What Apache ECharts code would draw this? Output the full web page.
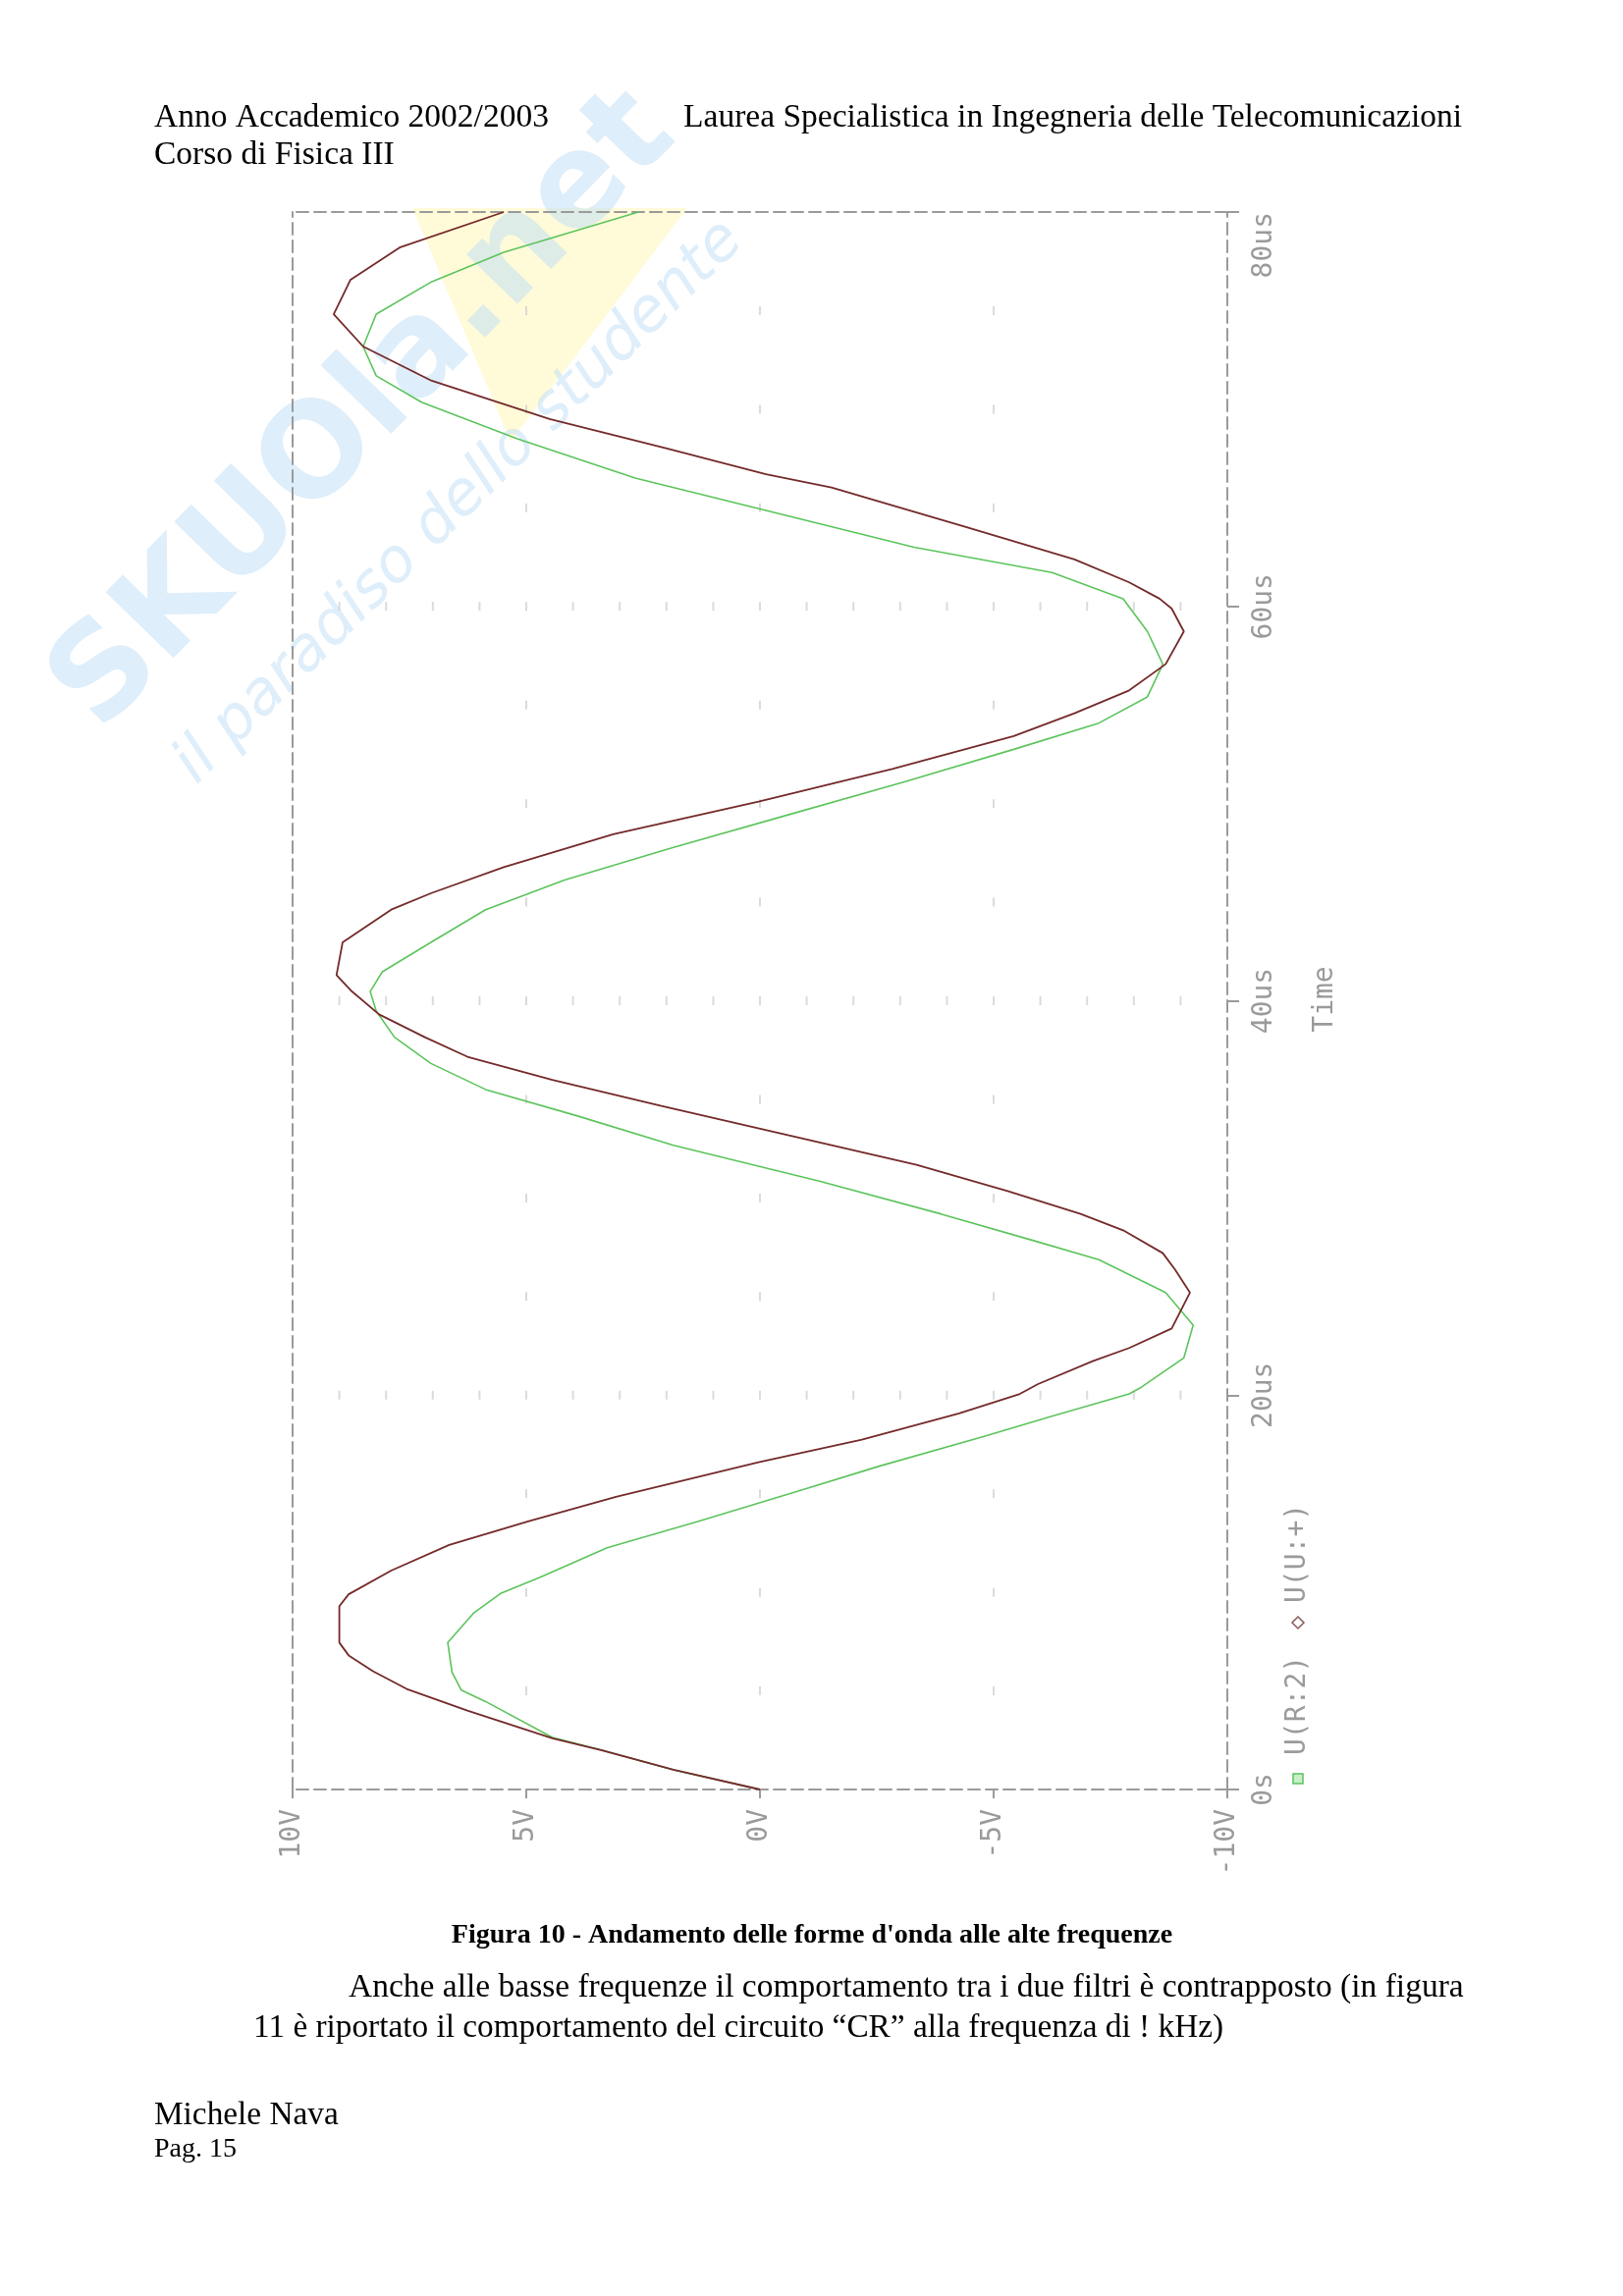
<!DOCTYPE html>
<html><head><meta charset="utf-8">
<script src="https://cdn.jsdelivr.net/npm/echarts@6/dist/echarts.min.js"></script>
<style>html,body{margin:0;padding:0;background:#fff}#c{width:1653px;height:2339px}</style>
</head><body><div id="c"></div>
<script>
// ---- data (time in us, voltage in V) ----
const darkName = 'U(U:+)';
const darkTime = [0, 1.0, 2.0, 2.6, 4.0, 5.1, 6.0, 6.8, 7.45, 9.3, 9.9, 11.1, 12.4, 13.6, 14.84, 16.6, 17.74, 19.07, 20.06, 20.56, 21.72, 22.39, 23.38, 25.2, 26.37, 27.2, 28.36, 29.19, 30.35, 31.68, 33.17, 34.67, 35.99, 37.16, 38.15, 39.31, 40.47, 41.3, 42.96, 44.62, 45.45, 46.78, 48.44, 50.1, 51.76, 53.42, 54.58, 55.74, 57.07, 58.73, 59.89, 60.39, 61.22, 62.38, 64.04, 66.03, 66.7, 68.0, 69.5, 71.44, 73.18, 74.82, 76.57, 78.2, 80.0];
const darkVolt = [0, 1.85, 3.4, 4.44, 6.26, 7.56, 8.28, 8.8, 9.0, 9.0, 8.8, 7.89, 6.65, 4.96, 3.08, 0.03, -2.18, -4.26, -5.56, -5.95, -7.12, -7.9, -8.81, -9.2, -8.88, -8.62, -7.77, -6.86, -5.30, -3.35, -0.62, 2.11, 4.44, 6.26, 7.17, 8.15, 8.73, 9.06, 8.93, 7.89, 7.04, 5.48, 3.14, 0.03, -2.83, -5.43, -6.73, -7.9, -8.68, -9.07, -8.81, -8.55, -7.9, -6.73, -4.39, -1.53, -0.13, 1.97, 4.5, 7.02, 8.49, 9.12, 8.76, 7.71, 5.48];

const greenName = 'U(R:2)';
const greenTime = [0, 1.0, 2.0, 2.64, 4.46, 5.04, 5.96, 7.45, 8.94, 9.94, 10.77, 12.26, 13.59, 15.08, 16.41, 17.9, 18.9, 20.06, 20.4, 21.89, 23.55, 25.2, 26.87, 27.86, 29.19, 30.85, 32.67, 34.17, 35.5, 36.82, 38.15, 39.48, 40.47, 41.47, 42.96, 44.62, 46.12, 47.78, 49.44, 51.1, 52.75, 54.08, 55.41, 57.07, 58.73, 60.39, 61.72, 63.0, 64.87, 66.51, 68.5, 70.34, 71.69, 73.18, 74.82, 76.47, 77.96, 80.0];
const greenVolt = [0, 1.85, 3.4, 4.44, 5.87, 6.39, 6.59, 6.68, 6.13, 5.55, 4.70, 3.27, 1.33, -0.75, -2.57, -4.78, -6.21, -7.9, -8.16, -9.07, -9.27, -8.68, -7.25, -5.82, -3.87, -1.27, 1.85, 3.92, 5.87, 7.04, 7.82, 8.21, 8.34, 8.08, 7.04, 5.87, 4.18, 1.85, -0.62, -3.09, -5.43, -7.25, -8.29, -8.62, -8.29, -7.77, -6.25, -3.3, -0.13, 2.67, 5.19, 7.23, 8.21, 8.49, 8.21, 7.02, 5.48, 2.6];

// ---- tick labels ----
const voltTickValues = [-10, -5, 0, 5, 10];
const voltTickLabels = ['-10V', '-5V', '0V', '5V', '10V'];
const timeTickValues = [0, 20, 40, 60, 80];
const timeTickLabels = ['0s', '20us', '40us', '60us', '80us'];

// ---- dotted grid mark positions ----
const gridRowTimes = [20, 40, 60];
const gridRowVolts = [-9, -8, -7, -6, -5, -4, -3, -2, -1, 0, 1, 2, 3, 4, 5, 6, 7, 8, 9];
const gridColVolts = [-5, 0, 5];
const gridColTimes = [5, 10, 15, 25, 30, 35, 45, 50, 55, 65, 70, 75];

// ---- page texts ----
const headerLeft1 = 'Anno Accademico 2002/2003';
const headerLeft2 = 'Corso di Fisica III';
const headerRight = 'Laurea Specialistica in Ingegneria delle Telecomunicazioni';
const captionText = "Figura 10 - Andamento delle forme d'onda alle alte frequenze";
const bodyLine1 = 'Anche alle basse frequenze il comportamento tra i due filtri è contrapposto (in figura';
const bodyLine2 = '11 è riportato il comportamento del circuito “CR” alla frequenza di ! kHz)';
const footer1 = 'Michele Nava';
const footer2 = 'Pag. 15';

const pair = (ts, vs) => ts.map((t, i) => [vs[i], t]);
const gridMarks = [];
gridRowTimes.forEach(t => gridRowVolts.forEach(v => gridMarks.push([v, t])));
gridColVolts.forEach(v => gridColTimes.forEach(t => gridMarks.push([v, t])));

const AX = '#9a9a9a';
const dashed = {color: AX, width: 2, type: [12, 6]};
const mono = 'DejaVu Sans Mono';
const serif = '"Liberation Serif", "Times New Roman", serif';
const F = '33.5px ' + serif;
const FB = '33.3px ' + serif;

const chart = echarts.init(document.getElementById('c'), null, {renderer: 'canvas'});
chart.setOption({
  backgroundColor: '#ffffff',
  animation: false,
  grid: {left: 298, top: 216, width: 952, height: 1607, containLabel: false},
  xAxis: [{
    type: 'value', min: -10, max: 10, interval: 5, inverse: true, position: 'bottom',
    axisLine: {show: true, onZero: false, lineStyle: dashed},
    axisTick: {show: true, length: 9, lineStyle: {color: AX, width: 2}},
    axisLabel: {rotate: 90, margin: 20, color: AX, fontFamily: mono, fontSize: 28,
      formatter: v => voltTickLabels[voltTickValues.indexOf(v)] ?? ''},
    splitLine: {show: false}
  }, {
    type: 'value', min: -10, max: 10, inverse: true, position: 'top',
    axisLine: {show: true, onZero: false, lineStyle: dashed},
    axisTick: {show: false}, axisLabel: {show: false}, splitLine: {show: false}
  }],
  yAxis: [{
    type: 'value', min: 0, max: 80, interval: 20, position: 'right',
    axisLine: {show: true, onZero: false, lineStyle: dashed},
    axisTick: {show: true, length: 12, lineStyle: {color: AX, width: 2}},
    axisLabel: {rotate: 90, margin: 24, color: AX, fontFamily: mono, fontSize: 28, alignMaxLabel: 'right',
      formatter: v => timeTickLabels[timeTickValues.indexOf(v)] ?? ''},
    splitLine: {show: false}
  }, {
    type: 'value', min: 0, max: 80, position: 'left',
    axisLine: {show: true, onZero: false, lineStyle: dashed},
    axisTick: {show: false}, axisLabel: {show: false}, splitLine: {show: false}
  }],
  series: [{
    type: 'scatter', name: 'grid', silent: true, xAxisIndex: 0, yAxisIndex: 0,
    symbol: 'rect', symbolSize: [2, 9], itemStyle: {color: '#d2d2d2'}, data: gridMarks, z: 1
  }, {
    type: 'line', name: greenName, xAxisIndex: 0, yAxisIndex: 0, showSymbol: false, smooth: false,
    lineStyle: {color: '#5cc45c', width: 1.6}, data: pair(greenTime, greenVolt), z: 3
  }, {
    type: 'line', name: darkName, xAxisIndex: 0, yAxisIndex: 0, showSymbol: false, smooth: false,
    lineStyle: {color: '#742a2a', width: 1.8}, data: pair(darkTime, darkVolt), z: 4
  }],
  graphic: [
    // watermark
    {type: 'polygon', z: -5, silent: true, shape: {points: [[420, 212], [700, 212], [520, 450]]}, style: {fill: '#fffbd9'}},
    {type: 'text', z: -4, silent: true, x: 372, y: 420, rotation: 0.8,
      style: {text: 'SKUOla.net', font: 'bold 132px "DejaVu Sans"', fill: 'rgba(190,222,246,0.5)', align: 'center', verticalAlign: 'middle'}},
    {type: 'text', z: -4, silent: true, x: 468, y: 512, rotation: 0.78,
      style: {text: 'il paradiso dello studente', font: 'italic 62px "DejaVu Sans"', fill: 'rgba(190,222,246,0.5)', align: 'center', verticalAlign: 'middle'}},
    // page texts
    {type: 'text', x: 157, y: 120, style: {text: headerLeft1, font: F, fill: '#000', align: 'left', verticalAlign: 'middle'}},
    {type: 'text', x: 157, y: 158, style: {text: headerLeft2, font: F, fill: '#000', align: 'left', verticalAlign: 'middle'}},
    {type: 'text', x: 1489, y: 120, style: {text: headerRight, font: F, fill: '#000', align: 'right', verticalAlign: 'middle'}},
    {type: 'text', x: 827, y: 1972, style: {text: captionText, font: 'bold 28px ' + serif, fill: '#000', align: 'center', verticalAlign: 'middle'}},
    {type: 'text', x: 355, y: 2025, scaleX: 1.006, style: {text: bodyLine1, font: FB, fill: '#000', align: 'left', verticalAlign: 'middle'}},
    {type: 'text', x: 258, y: 2066, style: {text: bodyLine2, font: FB, fill: '#000', align: 'left', verticalAlign: 'middle'}},
    {type: 'text', x: 157, y: 2155, style: {text: footer1, font: FB, fill: '#000', align: 'left', verticalAlign: 'middle'}},
    {type: 'text', x: 157, y: 2190, style: {text: footer2, font: '28px ' + serif, fill: '#000', align: 'left', verticalAlign: 'middle'}},
    // axis title
    {type: 'text', x: 1350, y: 1018, rotation: Math.PI / 2,
      style: {text: 'Time', font: '28px ' + mono, fill: AX, align: 'center', verticalAlign: 'middle'}},
    // legend (rotated)
    {type: 'group', x: 1322, y: 1812, rotation: Math.PI / 2, children: [
      {type: 'rect', shape: {x: -5, y: -5, width: 10, height: 10}, style: {fill: '#c8efc8', stroke: '#5cc45c', lineWidth: 1.5}},
      {type: 'text', x: 24, y: 0, style: {text: greenName, font: '28px ' + mono, fill: AX, align: 'left', verticalAlign: 'middle'}},
      {type: 'polygon', shape: {points: [[153, 0], [159, -6], [165, 0], [159, 6]]}, style: {fill: 'none', stroke: '#8a5a5a', lineWidth: 1.5}},
      {type: 'text', x: 179, y: 0, style: {text: darkName, font: '28px ' + mono, fill: AX, align: 'left', verticalAlign: 'middle'}}
    ]}
  ]
});
</script>
</body></html>
